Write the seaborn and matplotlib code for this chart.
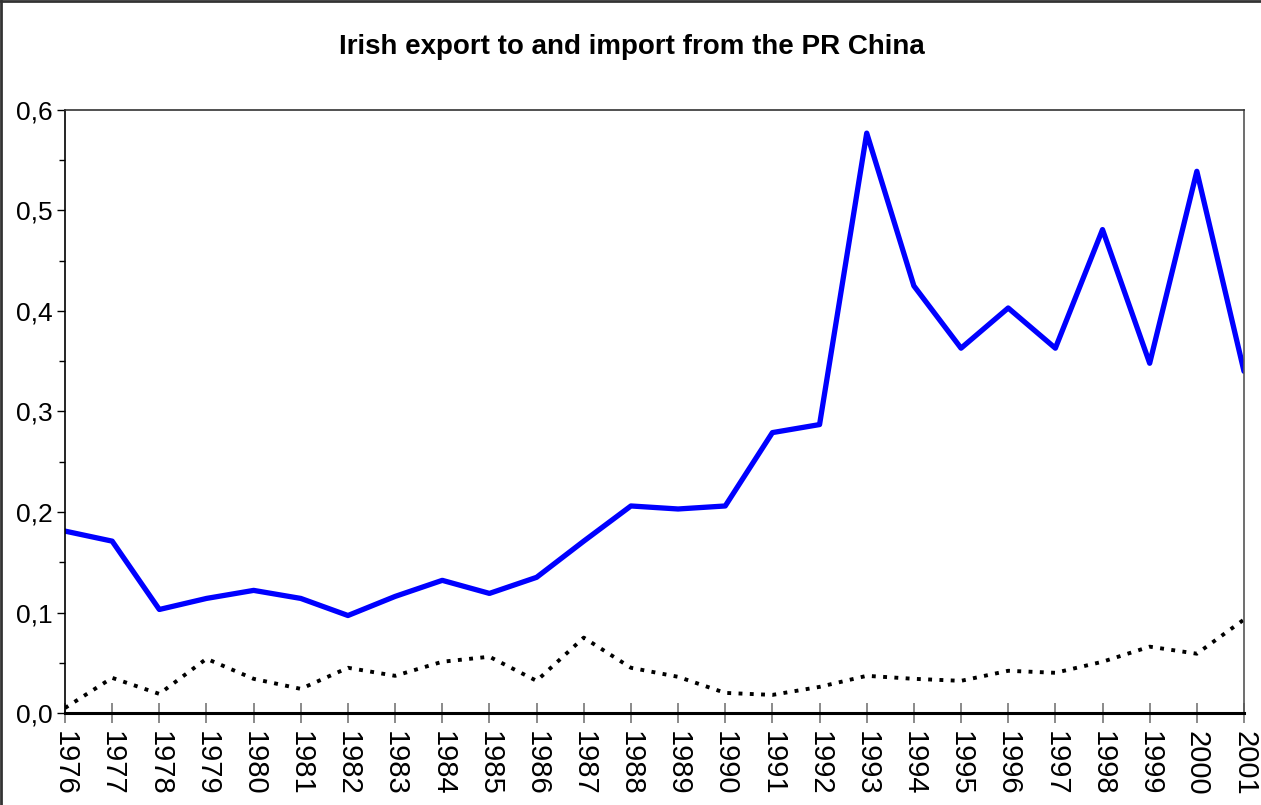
import matplotlib
matplotlib.use("Agg")
import matplotlib.pyplot as plt
from matplotlib.lines import Line2D
from matplotlib.ticker import MultipleLocator, FuncFormatter
import pandas as pd
import seaborn as sns

# Daten
jahre = list(range(1976, 2002))
export_china = [0.181, 0.171, 0.103, 0.114, 0.122, 0.114, 0.097, 0.116, 0.132, 0.119,
                0.135, 0.171, 0.206, 0.203, 0.206, 0.279, 0.287, 0.577, 0.425, 0.363,
                0.403, 0.363, 0.481, 0.348, 0.539, 0.340]
import_china = [0.005, 0.035, 0.019, 0.054, 0.034, 0.024, 0.045, 0.037, 0.051, 0.056,
                0.032, 0.075, 0.045, 0.036, 0.020, 0.018, 0.026, 0.037, 0.034, 0.032,
                0.042, 0.040, 0.051, 0.066, 0.059, 0.093]

df = pd.DataFrame({"jahr": jahre, "export": export_china, "import": import_china})

sns.set_style("ticks")
plt.rcParams["font.family"] = ["Liberation Sans", "DejaVu Sans"]
plt.rcParams["text.color"] = "black"
plt.rcParams["xtick.labelcolor"] = "black"
plt.rcParams["ytick.labelcolor"] = "black"

fig = plt.figure(figsize=(12.61, 8.05), dpi=100)
ax = fig.add_axes([65 / 1261, 1 - 713 / 805, (1244 - 65) / 1261, (713 - 110) / 805])

sns.lineplot(data=df, x="jahr", y="export", ax=ax, color="#0000ff", linewidth=3.8)
sns.lineplot(data=df, x="jahr", y="import", ax=ax, color="black", linewidth=2.8,
             dashes=False)
ax.lines[-1].set_dashes((1, 1.9))

ax.set_xlim(1976, 2001)
ax.set_ylim(0, 0.6)
ax.set_xticks(jahre)
ax.set_xticklabels([str(j) for j in jahre], rotation=270, fontsize=21)
ax.yaxis.set_major_locator(MultipleLocator(0.1))
ax.yaxis.set_minor_locator(MultipleLocator(0.05))
ax.yaxis.set_major_formatter(FuncFormatter(lambda v, p: f"{v:.1f}".replace(".", ",")))
ax.tick_params(axis="y", labelsize=19, length=6, width=1, color="black", pad=3,
               labelcolor="black")
ax.tick_params(axis="y", which="minor", length=4, width=1, color="black")
ax.tick_params(axis="x", direction="inout", length=14, width=1.2, color="#777777", pad=6,
               labelcolor="black")
ax.set_xlabel("")
ax.set_ylabel("")

ax.spines["bottom"].set_linewidth(2.2)
ax.spines["bottom"].set_color("black")
ax.spines["left"].set_linewidth(1.2)
ax.spines["left"].set_color("black")
ax.spines["top"].set_linewidth(1.2)
ax.spines["top"].set_color("#333333")
ax.spines["right"].set_linewidth(1.2)
ax.spines["right"].set_color("#555555")

fig.text(632 / 1261, 1 - 47 / 805, "Irish export to and import from the PR China",
         ha="center", va="center", fontsize=20, fontweight="bold", color="black",
         family=["Liberation Sans Narrow", "Liberation Sans", "DejaVu Sans"])

# Rahmen oben und links
fig.add_artist(Line2D([0, 1], [0.999, 0.999], transform=fig.transFigure, color="#333333", linewidth=2))
fig.add_artist(Line2D([0.001, 0.001], [0, 1], transform=fig.transFigure, color="#333333", linewidth=2))

fig.savefig("out.png", dpi=100)
